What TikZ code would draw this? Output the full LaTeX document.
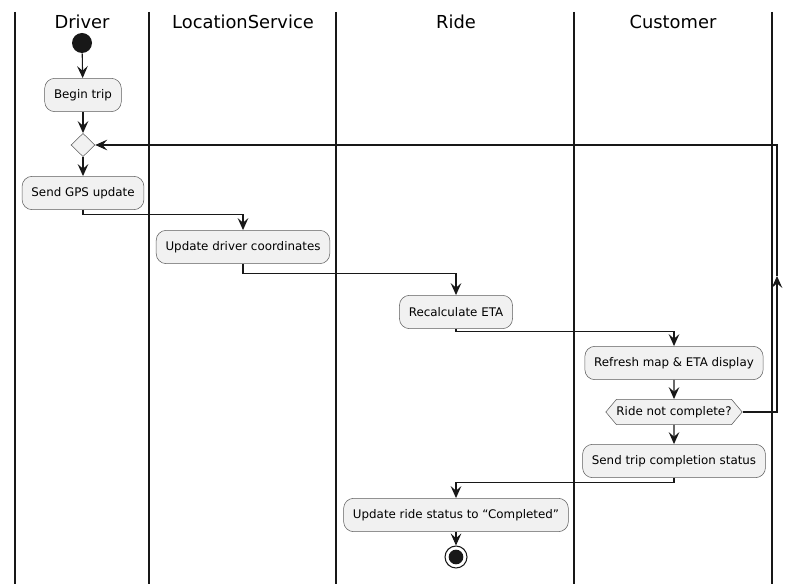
\documentclass[tikz,border=0pt]{standalone}
\usepackage{fontspec}
\setmainfont{DejaVu Sans}
\usetikzlibrary{arrows.meta,shapes.geometric,shapes.symbols}
\definecolor{boxfill}{HTML}{F1F1F1}
\definecolor{ink}{HTML}{181818}
\begin{document}
\begin{tikzpicture}[x=0.75pt,y=-0.75pt,
		lane/.style={line width=1.1pt,ink},
		title/.style={font=\fontsize{13.4}{16}\selectfont},
		action/.style={draw=ink!70,fill=boxfill,rounded corners=7.5pt,line width=0.4pt,
			minimum height=25pt,inner xsep=7pt,font=\fontsize{8.9}{10.7}\selectfont},
		merge/.style={diamond,draw=ink!70,fill=boxfill,line width=0.4pt,inner sep=0pt,
			minimum width=18pt,minimum height=17.5pt},
		test/.style={signal,signal to=west and east,signal pointer angle=100,draw=ink!70,
			fill=boxfill,line width=0.4pt,minimum height=19pt,inner xsep=0pt,
			font=\fontsize{8.9}{10.7}\selectfont},
		flow/.style={ink,line width=0.8pt,-{Stealth[length=9pt,width=8pt,inset=3.5pt]}}]
		\useasboundingbox (0,0) rectangle (802,584);

		% swimlanes
		\foreach \x in {15,149,336,574,772}
			\draw[lane] (\x,12) -- (\x,584);
		\node[title] (tDriver) at (82,22) {Driver};
		\node[title] (tLocation) at (243,22) {LocationService};
		\node[title] (tRide) at (456,22) {Ride};
		\node[title] (tCustomer) at (673,22) {Customer};

		% activities
		\node[circle,fill=ink,minimum size=15pt,inner sep=0pt] (start) at (82,43) {};
		\node[action] (begin) at (83,95) {Begin trip};
		\node[merge] (loop) at (83,145) {};
		\node[action] (gps) at (83,193) {Send GPS update};
		\node[action] (coords) at (243,247) {Update driver coordinates};
		\node[action] (eta) at (456,312) {Recalculate ETA};
		\node[action] (refresh) at (674,363) {Refresh map \& ETA display};
		\node[test] (notdone) at (674,412) {Ride not complete?};
		\node[action] (sendstatus) at (674,461) {Send trip completion status};
		\node[action] (setstatus) at (456,515) {Update ride status to “Completed”};
		\node[circle,draw=ink,line width=0.8pt,minimum size=16.5pt,inner sep=0pt] (stop) at (456,557) {};
		\node[circle,fill=ink,minimum size=11pt,inner sep=0pt] at (stop) {};

		\draw[flow] (start) -- (begin);
		\draw[flow] (begin) -- (loop);
		\draw[flow] (loop) -- (gps);
		\draw[flow] (gps.south) -- ++(0,5) -| (coords.north);
		\draw[flow] (coords.south) -- ++(0,10) -| (eta.north);
		\draw[flow] (eta.south) -- ++(0,3) -| (refresh.north);
		\draw[flow] (refresh) -- (notdone);
		\draw[flow] (notdone) -- (sendstatus);
		\draw[flow] (sendstatus.south) -- ++(0,5) -| (setstatus.north);
		\draw[flow] (setstatus) -- (stop);

		% back to the merge
		\coordinate (back) at (777,276);
		\draw[flow] (notdone.east) -| (back);
		\draw[flow] (back) |- (loop.east);
	\end{tikzpicture}
\end{document}
